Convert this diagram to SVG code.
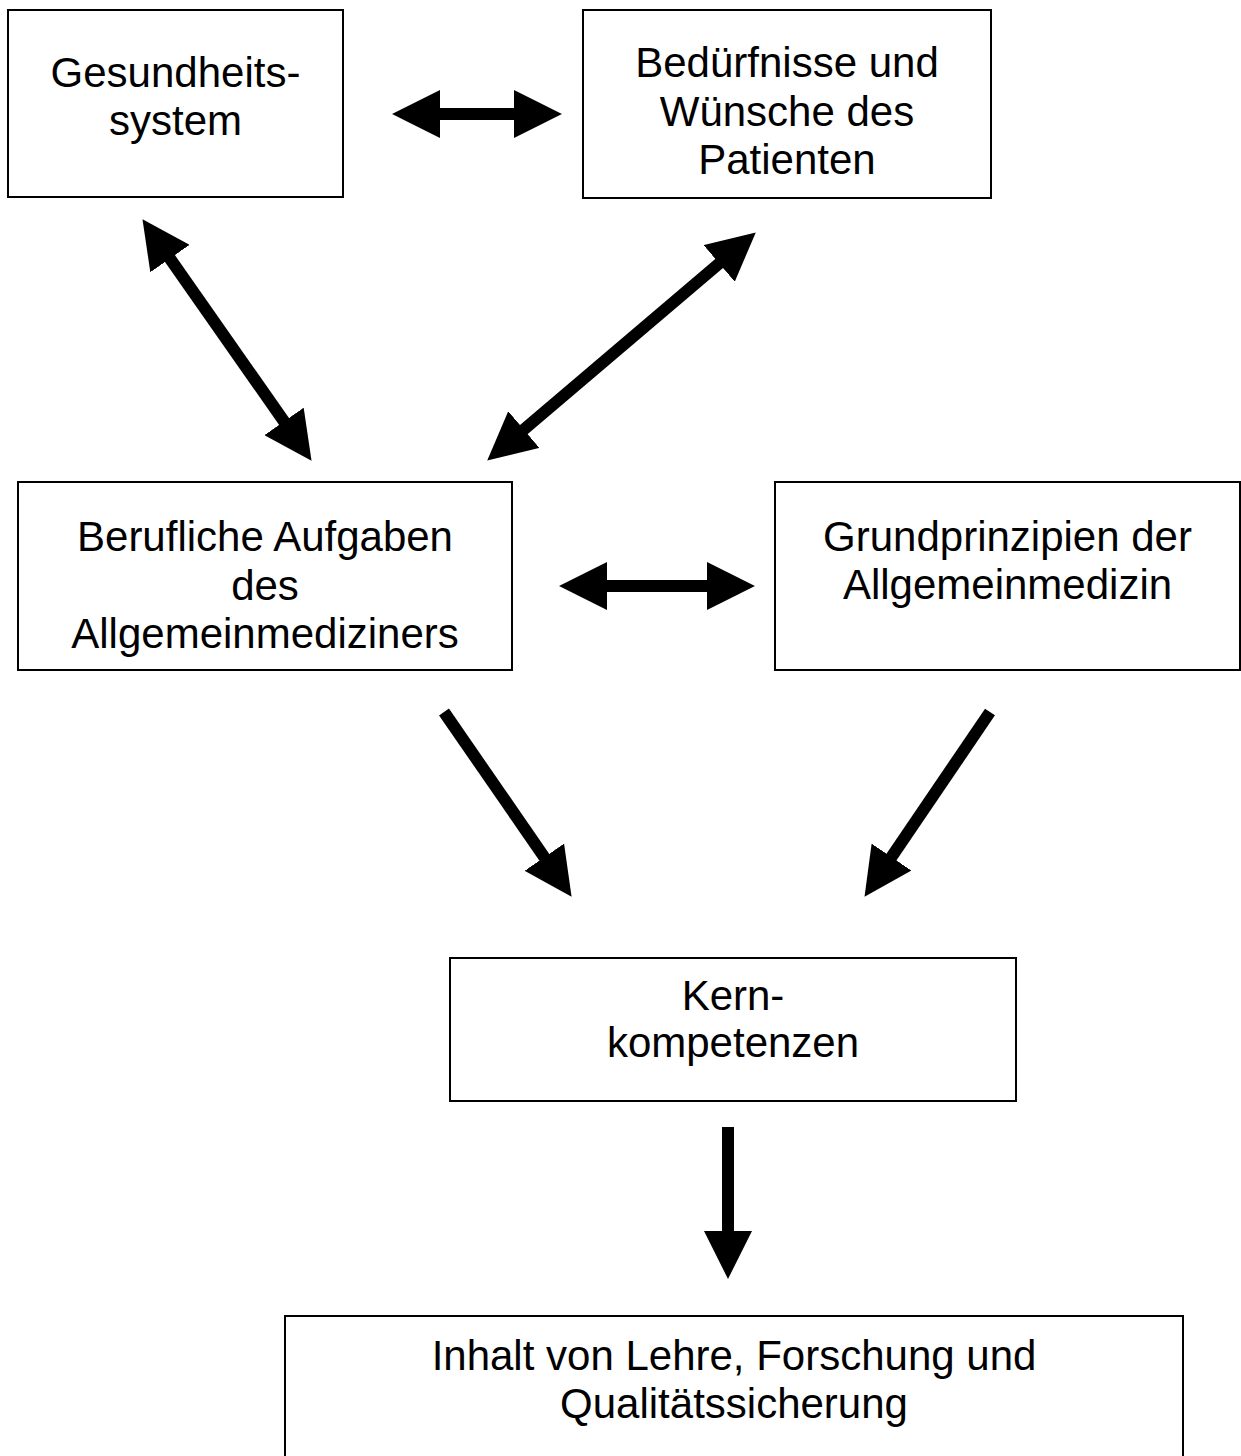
<svg xmlns="http://www.w3.org/2000/svg" width="1241" height="1456" viewBox="0 0 1241 1456">
<style>
.box{fill:#fff;stroke:#000;stroke-width:2}
.t{font-family:"Liberation Sans",Arial,sans-serif;font-size:42px;fill:#000;text-anchor:middle}
.c{stroke:#000;stroke-width:12;fill:none}
</style>
<defs>
<marker id="ah" markerUnits="userSpaceOnUse" markerWidth="48" markerHeight="48" viewBox="0 0 46 46" refX="1" refY="23" orient="auto-start-reverse">
<path d="M0,0 L46,23 L0,46 Z" fill="#000"/>
</marker>
</defs>
<rect width="1241" height="1456" fill="#fff"/>
<g id="connectors">
<line class="c" x1="439" y1="114" x2="515" y2="114" marker-start="url(#ah)" marker-end="url(#ah)"/>
<line class="c" x1="169.4" y1="257.7" x2="284.6" y2="422.3" marker-start="url(#ah)" marker-end="url(#ah)"/>
<line class="c" x1="720" y1="262.8" x2="523" y2="430.2" marker-start="url(#ah)" marker-end="url(#ah)"/>
<line class="c" x1="606" y1="586" x2="708" y2="586" marker-start="url(#ah)" marker-end="url(#ah)"/>
<line class="c" x1="444" y1="712" x2="544.9" y2="858.1" marker-end="url(#ah)"/>
<line class="c" x1="990" y1="712" x2="890.9" y2="857.9" marker-end="url(#ah)"/>
<line class="c" x1="728" y1="1127" x2="728" y2="1232" marker-end="url(#ah)"/>
</g>
<g id="node-gesundheitssystem">
<rect class="box" x="8" y="10" width="335" height="187"/>
<text class="t" x="175.5" y="87">Gesundheits-</text>
<text class="t" x="175.5" y="135">system</text>
</g>
<g id="node-beduerfnisse">
<rect class="box" x="583" y="10" width="408" height="188"/>
<text class="t" x="787" y="77">Bedürfnisse und</text>
<text class="t" x="787" y="126">Wünsche des</text>
<text class="t" x="787" y="174">Patienten</text>
</g>
<g id="node-berufliche-aufgaben">
<rect class="box" x="18" y="482" width="494" height="188"/>
<text class="t" x="265" y="551">Berufliche Aufgaben</text>
<text class="t" x="265" y="600">des</text>
<text class="t" x="265" y="648">Allgemeinmediziners</text>
</g>
<g id="node-grundprinzipien">
<rect class="box" x="775" y="482" width="465" height="188"/>
<text class="t" x="1007.5" y="551">Grundprinzipien der</text>
<text class="t" x="1007.5" y="599">Allgemeinmedizin</text>
</g>
<g id="node-kernkompetenzen">
<rect class="box" x="450" y="958" width="566" height="143"/>
<text class="t" x="733" y="1010">Kern-</text>
<text class="t" x="733" y="1057">kompetenzen</text>
</g>
<g id="node-inhalt">
<rect class="box" x="285" y="1316" width="898" height="160"/>
<text class="t" x="734" y="1370">Inhalt von Lehre, Forschung und</text>
<text class="t" x="734" y="1418">Qualitätssicherung</text>
</g>
</svg>
